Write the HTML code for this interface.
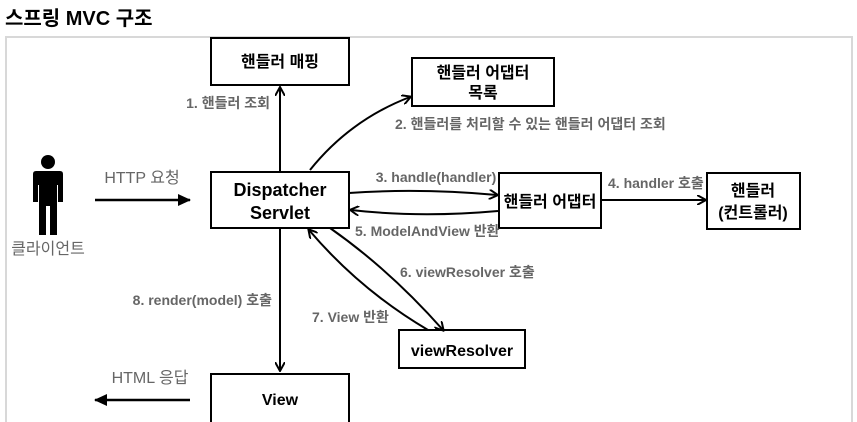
<!DOCTYPE html>
<html><head><meta charset="utf-8"><style>
html,body{margin:0;padding:0;background:#fff;}
svg{display:block;}
text{font-family:"Liberation Sans","Noto Sans CJK KR",sans-serif;}
.l{font-size:14px;font-weight:bold;fill:#666;}
.b{font-size:16px;fill:#000;font-weight:bold;}
</style></head><body>
<svg width="857" height="422" viewBox="0 0 857 422" xmlns="http://www.w3.org/2000/svg">
<defs>
<marker id="a" markerWidth="10" markerHeight="10" refX="8" refY="5" orient="auto" markerUnits="userSpaceOnUse">
<path d="M0,0 L9,5 L0,10" fill="none" stroke="#000" stroke-width="2"/>
</marker>
<marker id="f" markerWidth="14" markerHeight="12" refX="12" refY="6" orient="auto" markerUnits="userSpaceOnUse">
<path d="M0,0 L13,6 L0,12 Z" fill="#000"/>
</marker>
</defs>
<text x="5" y="25" style="font-size:20px;font-weight:bold" fill="#000">스프링 MVC 구조</text>
<rect x="6" y="37" width="846" height="390" fill="#fff" stroke="#d8d8d8" stroke-width="2"/>
<g fill="#fff" stroke="#000" stroke-width="2">
<rect x="211" y="38" width="138" height="47"/>
<rect x="412" y="58" width="142" height="48"/>
<rect x="211" y="172" width="138" height="56"/>
<rect x="499" y="173" width="102" height="55"/>
<rect x="707" y="173" width="93" height="56"/>
<rect x="399" y="330" width="126" height="38"/>
<rect x="211" y="374" width="138" height="50"/>
</g>
<g class="b" text-anchor="middle">
<text x="280" y="67">핸들러 매핑</text>
<text x="483" y="78">핸들러 어댑터</text>
<text x="483" y="98">목록</text>
<text x="280" y="196" font-size="18">Dispatcher</text>
<text x="280" y="219" font-size="18">Servlet</text>
<text x="550" y="207">핸들러 어댑터</text>
<text x="753" y="196">핸들러</text>
<text x="753" y="218">(컨트롤러)</text>
<text x="462" y="356">viewResolver</text>
<text x="280" y="405">View</text>
</g>
<circle cx="48" cy="162" r="7" fill="#000"/>
<path d="M36,171 H60 Q63,171 63,174 V202 H58 V185 H57 V235 H50 V206 H46 V235 H39 V185 H38 V202 H33 V174 Q33,171 36,171 Z" fill="#000"/>
<text x="48" y="254" text-anchor="middle" font-size="16" fill="#666">클라이언트</text>
<text x="142" y="183" text-anchor="middle" font-size="16" fill="#666">HTTP 요청</text>
<text x="150" y="383" text-anchor="middle" font-size="16" fill="#666">HTML 응답</text>
<g stroke="#000" stroke-width="2.5" fill="none">
<line x1="95" y1="200" x2="190" y2="200" marker-end="url(#f)"/>
<line x1="190" y1="400" x2="95" y2="400" marker-end="url(#f)"/>
</g>
<g stroke="#000" stroke-width="2" fill="none" marker-end="url(#a)">
<line x1="280" y1="172" x2="280" y2="88"/>
<line x1="280" y1="228" x2="280" y2="370"/>
<path d="M310,170 Q350,120 410,97"/>
<path d="M349,193 Q420,188 497,195"/>
<path d="M498,211 Q420,218 351,210"/>
<line x1="601" y1="200" x2="705" y2="200"/>
<path d="M330,228 Q390,270 443,330"/>
<path d="M428,330 Q360,290 309,230"/>
</g>
<g class="l">
<text x="270" y="108" text-anchor="end">1. 핸들러 조회</text>
<text x="395" y="129">2. 핸들러를 처리할 수 있는 핸들러 어댑터 조회</text>
<text x="436" y="182" text-anchor="middle">3. handle(handler)</text>
<text x="608" y="188">4. handler 호출</text>
<text x="355" y="236">5. ModelAndView 반환</text>
<text x="400" y="277">6. viewResolver 호출</text>
<text x="312" y="322">7. View 반환</text>
<text x="272" y="305" text-anchor="end">8. render(model) 호출</text>
</g>
</svg>
</body></html>
